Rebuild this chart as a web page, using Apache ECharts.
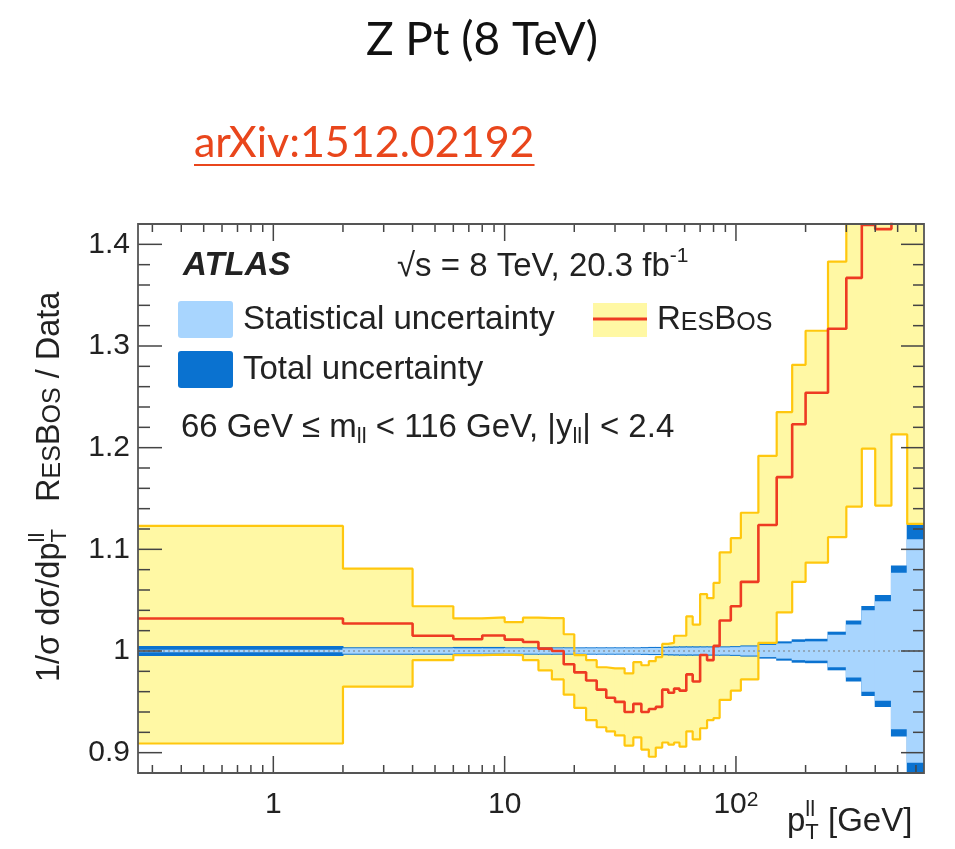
<!DOCTYPE html>
<html>
<head>
<meta charset="utf-8">
<title>Z pT (8 TeV) — ResBos / Data</title>
<script src="https://cdn.jsdelivr.net/npm/echarts@6/dist/echarts.min.js"></script>
<style>
  html, body { margin: 0; padding: 0; background: #fff; }
  #chart { width: 955px; height: 849px; }
</style>
</head>
<body>
<div id="chart"></div>
<script>
// p_T^ll bin edges [GeV]
const EDGES = [0, 2, 4, 6, 8, 10, 12, 14, 16, 18, 20, 22.5, 25, 27.5, 30, 33, 36, 39, 42, 45, 48,
  51, 54, 57, 61, 65, 70, 75, 80, 85, 95, 105, 125, 150, 175, 200, 250, 300, 350, 400, 470, 550, 650];

// ResBos / Data ratio per bin (central value)
const RESBOS = [1.032, 1.027, 1.015, 1.0115, 1.0152, 1.0112, 1.0088, 1.0023, 1.000, 0.987, 0.979,
  0.971, 0.962, 0.954, 0.950, 0.940, 0.948, 0.940, 0.943, 0.945, 0.962, 0.959, 0.963, 0.961, 0.977,
  0.970, 0.996, 0.991, 1.005, 1.030, 1.044, 1.068, 1.124, 1.171, 1.223, 1.254, 1.317, 1.367, 1.419,
  1.415, 1.45, 1.45];

// ResBos uncertainty band, upper and lower edges
const RESBOS_UP = [1.123, 1.081, 1.044, 1.032, 1.033, 1.0285, 1.0328, 1.0324, 1.0324, 1.0165, 0.996,
  0.991, 0.984, 0.983, 0.983, 0.978, 0.989, 0.986, 0.990, 0.994, 1.007, 1.008, 1.015, 1.015, 1.034,
  1.026, 1.056, 1.052, 1.067, 1.097, 1.111, 1.136, 1.192, 1.235, 1.2815, 1.315, 1.383, 1.55, 1.6,
  1.6, 1.65, 1.7];
const RESBOS_DOWN = [0.909, 0.965, 0.991, 0.996, 0.9965, 0.996, 0.991, 0.981, 0.972, 0.957, 0.944,
  0.932, 0.925, 0.921, 0.917, 0.907, 0.915, 0.903, 0.896, 0.905, 0.910, 0.908, 0.910, 0.906, 0.921,
  0.913, 0.924, 0.932, 0.934, 0.952, 0.961, 0.972, 1.008, 1.038, 1.068, 1.087, 1.112, 1.142, 1.199,
  1.143, 1.213, 1.125];

// Relative data uncertainties (half widths around 1)
const TOTAL_UNC = [0.0048, 0.0036, 0.0036, 0.004, 0.004, 0.0036, 0.0036, 0.0036, 0.0036, 0.0036,
  0.0036, 0.0036, 0.0036, 0.0036, 0.0036, 0.0036, 0.0036, 0.0038, 0.004, 0.004, 0.0042, 0.0044,
  0.0045, 0.0046, 0.0046, 0.0046, 0.0046, 0.0046, 0.0046, 0.0046, 0.0048, 0.0055, 0.0075, 0.0095,
  0.0115, 0.012, 0.019, 0.030, 0.0442, 0.055, 0.084, 0.125];
const STAT_UNC = [0.0012, 0.0026, 0.0026, 0.0026, 0.0026, 0.0027, 0.0027, 0.0027, 0.0027, 0.0027,
  0.0027, 0.0027, 0.0027, 0.0027, 0.0027, 0.0027, 0.0027, 0.0028, 0.003, 0.003, 0.0031, 0.0032,
  0.0033, 0.0034, 0.0034, 0.0034, 0.0035, 0.0035, 0.0036, 0.0036, 0.0038, 0.0045, 0.006, 0.0075,
  0.009, 0.0095, 0.016, 0.026, 0.040, 0.049, 0.077, 0.110];

// Axis ranges and tick labels
const X_MIN = 0.26, X_MAX = 650;
const Y_MIN = 0.88, Y_MAX = 1.42;
const X_MAJOR = [1, 10, 100];
const X_MAJOR_TEXT = ['1', '10', '{b|10}{s|2}'];
const Y_MAJOR = [0.9, 1.0, 1.1, 1.2, 1.3, 1.4];
const Y_MAJOR_TEXT = ['0.9', '1', '1.1', '1.2', '1.3', '1.4'];

// minor ticks: 2..9 within each decade, 0.02 steps on the ratio axis
const X_MINOR = [];
[0.1, 1, 10, 100].forEach(d => { for (let k = 2; k <= 9; k++) { const v = k * d; if (v > X_MIN && v < X_MAX) X_MINOR.push(v); } });
const Y_MINOR = [];
for (let k = 44; k <= 71; k++) { if (k % 5 !== 0) Y_MINOR.push(k * 0.02); }

const INK = '#222';
const FONT = '"Liberation Sans", Arial, sans-serif';
const C_FILL = '#FFF8A4', C_EDGE = '#FFC70E', C_RED = '#EE3B22';
const C_STAT = '#A8D5FE', C_TOTAL = '#0A72D0', C_FRAME = '#555', C_TICK = '#444';
const ORANGE = '#E9461C';

const measureCtx = document.createElement('canvas').getContext('2d');
function textWidth(t, size, weight, style, family) {
  measureCtx.font = `${style || 'normal'} ${weight || 'normal'} ${size}px ${family || FONT}`;
  return measureCtx.measureText(t).width;
}

// lays text fragments side by side; a "stack" fragment shares its x with the next one
function composeText(frags, base) {
  let x = 0, pending = 0;
  const kids = [];
  for (const f of frags) {
    const size = f.size || base;
    const w = textWidth(f.t, size, f.weight, f.style);
    kids.push({
      type: 'text', x: x, y: f.dy || 0, silent: true,
      style: {
        text: f.t, fontSize: size, fontFamily: FONT, fontWeight: f.weight || 'normal',
        fontStyle: f.style || 'normal', fill: f.color || INK, align: 'left', verticalAlign: 'middle'
      }
    });
    if (f.stack) { pending = w; } else { x += Math.max(w, pending); pending = 0; }
  }
  return kids;
}

// per-bin helpers
const lowEdge = i => Math.max(EDGES[i], X_MIN);
function stepPoints(vals) {
  const pts = [];
  vals.forEach((v, i) => { pts.push([lowEdge(i), v], [EDGES[i + 1], v]); });
  return pts;
}
function bandRows(lo, hi) {
  return lo.map((v, i) => [lowEdge(i), EDGES[i + 1], v, hi[i]]);
}

function bandSeries(name, rows, color) {
  return {
    type: 'custom', name: name, data: rows, encode: { x: [0, 1], y: [2, 3] }, silent: true,
    renderItem(params, api) {
      const p0 = api.coord([api.value(0), api.value(3)]);
      const p1 = api.coord([api.value(1), api.value(2)]);
      const cs = params.coordSys;
      const shape = echarts.graphic.clipRectByRect(
        { x: p0[0] - 0.5, y: p0[1], width: p1[0] - p0[0] + 1, height: p1[1] - p0[1] },
        { x: cs.x, y: cs.y, width: cs.width, height: cs.height });
      return shape && { type: 'rect', shape: shape, style: { fill: color } };
    }
  };
}

function stepLine(name, vals, color, width) {
  return {
    type: 'line', name: name, data: stepPoints(vals), symbol: 'none', silent: true, clip: true,
    lineStyle: { color: color, width: width }
  };
}

// frame and inward ticks on all four sides
const frameSeries = {
  type: 'custom', name: 'frame', data: [[1, 1]], encode: { x: 0, y: 1 }, silent: true, z: 10,
  renderItem(params, api) {
    const cs = params.coordSys;
    const L = cs.x, R = cs.x + cs.width, T = cs.y, B = cs.y + cs.height;
    const kids = [];
    const seg = (x1, y1, x2, y2) => kids.push({
      type: 'line', shape: { x1, y1, x2, y2 }, style: { stroke: C_TICK, lineWidth: 1.5 }
    });
    X_MAJOR.forEach(v => { const x = api.coord([v, 1])[0]; seg(x, B, x, B - 17); seg(x, T, x, T + 17); });
    X_MINOR.forEach(v => { const x = api.coord([v, 1])[0]; seg(x, B, x, B - 8); seg(x, T, x, T + 8); });
    Y_MAJOR.forEach(v => { const y = api.coord([1, v])[1]; seg(L, y, L + 24, y); seg(R, y, R - 23, y); });
    Y_MINOR.forEach(v => { const y = api.coord([1, v])[1]; seg(L, y, L + 12, y); seg(R, y, R - 11, y); });
    kids.push({ type: 'rect', shape: { x: L, y: T, width: cs.width, height: cs.height },
      style: { fill: 'none', stroke: C_FRAME, lineWidth: 1.8 } });
    return { type: 'group', children: kids };
  }
};

const ARXIV = 'arXiv:1512.02192';
const arxivW = textWidth(ARXIV, 43, 'normal', 'normal', 'Lato');

const graphics = [
  { type: 'text', x: 482, y: 40, silent: true,
    style: { text: 'Z Pt (8 TeV)', fontSize: 46, fontFamily: 'Lato', fill: '#111', align: 'center', verticalAlign: 'middle' } },
  { type: 'text', x: 194, y: 143, silent: true,
    style: { text: ARXIV, fontSize: 43, fontFamily: 'Lato', fill: ORANGE, align: 'left', verticalAlign: 'middle' } },
  { type: 'line', silent: true, shape: { x1: 194, y1: 165, x2: 194 + arxivW, y2: 165 }, style: { stroke: ORANGE, lineWidth: 2 } },

  { type: 'group', x: 183, y: 266, children: composeText([{ t: 'ATLAS', weight: 'bold', style: 'italic' }], 33) },
  { type: 'group', x: 397, y: 267, children: composeText([{ t: '√s = 8 TeV, 20.3 fb' }, { t: '-1', size: 21, dy: -11 }], 33) },

  // legend
  { type: 'rect', silent: true, shape: { x: 178, y: 301, width: 55, height: 37, r: 3 }, style: { fill: C_STAT } },
  { type: 'group', x: 243, y: 320, children: composeText([{ t: 'Statistical uncertainty' }], 33) },
  { type: 'rect', silent: true, shape: { x: 178, y: 351, width: 55, height: 37, r: 3 }, style: { fill: C_TOTAL } },
  { type: 'group', x: 243, y: 370, children: composeText([{ t: 'Total uncertainty' }], 33) },
  { type: 'rect', silent: true, shape: { x: 593, y: 303, width: 54, height: 34 }, style: { fill: C_FILL } },
  { type: 'line', silent: true, shape: { x1: 593, y1: 319, x2: 647, y2: 319 }, style: { stroke: C_RED, lineWidth: 3 } },
  { type: 'group', x: 657, y: 320, children: composeText([
      { t: 'R' }, { t: 'ES', size: 25, dy: 2.7 }, { t: 'B' }, { t: 'OS', size: 25, dy: 2.7 }], 33) },

  { type: 'group', x: 181, y: 428, children: composeText([
      { t: '66 GeV ≤ m' }, { t: 'll', size: 22, dy: 9 }, { t: ' < 116 GeV, |y' }, { t: 'll', size: 22, dy: 9 },
      { t: '| < 2.4' }], 33) },

  // axis titles
  { type: 'group', x: 50, y: 682, rotation: Math.PI / 2, children: composeText([
      { t: '1/σ dσ/dp' }, { t: 'T', size: 22, dy: 10, stack: true }, { t: 'll', size: 22, dy: -12 },
      { t: '   ' }, { t: 'R' }, { t: 'ES', size: 25, dy: 2.7 }, { t: 'B' }, { t: 'OS', size: 25, dy: 2.7 },
      { t: ' / Data' }], 32.5) },
  { type: 'group', x: 787, y: 822, children: composeText([
      { t: 'p' }, { t: 'T', size: 22, dy: 11, stack: true }, { t: 'll', size: 22, dy: -12 }, { t: ' [GeV]' }], 33) }
];

const totalRows = TOTAL_UNC.map((u, i) => [lowEdge(i), EDGES[i + 1], 1 - u, 1 + u]);
const statRows = STAT_UNC.map((u, i) => [lowEdge(i), EDGES[i + 1], 1 - u, 1 + u]);

const option = {
  animation: false,
  backgroundColor: '#fff',
  grid: { left: 138, right: 31, top: 224, bottom: 76, outerBoundsMode: 'none', containLabel: false },
  xAxis: {
    type: 'log', logBase: 10, min: X_MIN, max: X_MAX,
    axisLine: { show: false }, axisTick: { show: false }, splitLine: { show: false },
    axisLabel: {
      margin: 17, fontSize: 30, fontFamily: FONT, color: INK, showMinLabel: true, showMaxLabel: true,
      formatter(v) {
        const e = Math.log10(v), r = Math.round(e);
        if (Math.abs(e - r) > 1e-6) return '';
        const idx = X_MAJOR.indexOf(Math.pow(10, r));
        return idx >= 0 ? X_MAJOR_TEXT[idx] : '';
      },
      rich: {
        b: { fontSize: 30, fontFamily: FONT, color: INK },
        s: { fontSize: 21, fontFamily: FONT, color: INK, verticalAlign: 'top', lineHeight: 18 }
      }
    }
  },
  yAxis: {
    type: 'value', min: Y_MIN, max: Y_MAX, interval: 0.02,
    axisLine: { show: false }, axisTick: { show: false }, splitLine: { show: false },
    axisLabel: {
      margin: 8, fontSize: 30, fontFamily: FONT, color: INK,
      formatter(v) {
        const idx = Y_MAJOR.findIndex(m => Math.abs(m - v) < 1e-6);
        return idx >= 0 ? Y_MAJOR_TEXT[idx] : '';
      }
    }
  },
  series: [
    bandSeries('ResBos band', bandRows(RESBOS_DOWN, RESBOS_UP), C_FILL),
    stepLine('ResBos up', RESBOS_UP, C_EDGE, 2.2),
    stepLine('ResBos down', RESBOS_DOWN, C_EDGE, 2.2),
    bandSeries('Total uncertainty', totalRows, C_TOTAL),
    bandSeries('Statistical uncertainty', statRows, C_STAT),
    {
      type: 'line', name: 'unity', data: [[X_MIN, 1], [X_MAX, 1]], symbol: 'none', silent: true,
      lineStyle: { color: '#8a9aa8', width: 1.3, type: [2, 3] }
    },
    stepLine('ResBos', RESBOS, C_RED, 2.6),
    frameSeries
  ],
  graphic: graphics
};

const chart = echarts.init(document.getElementById('chart'), null, { renderer: 'canvas' });
chart.setOption(option);
</script>
</body>
</html>
